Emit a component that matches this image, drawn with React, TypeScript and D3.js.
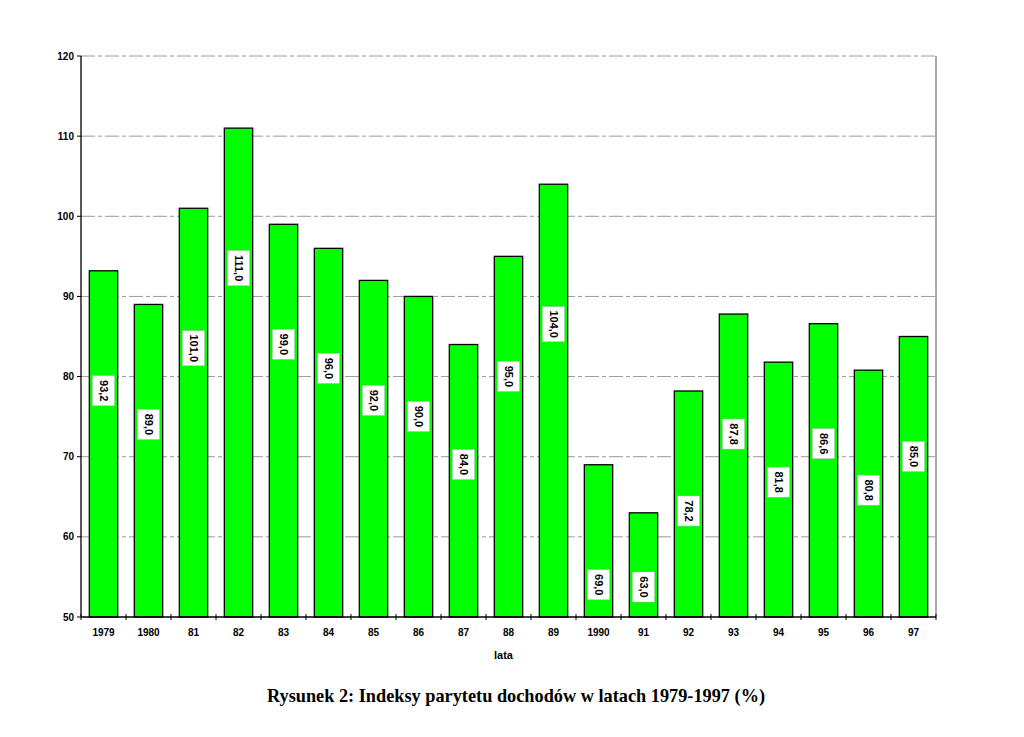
import { FC } from "react";
import * as d3 from "d3";

const WIDTH = 1024;
const HEIGHT = 737;
const MARGIN = { top: 56, right: 88, bottom: 120, left: 81 };

const years = ["1979", "1980", "81", "82", "83", "84", "85", "86", "87", "88", "89", "1990", "91", "92", "93", "94", "95", "96", "97"];
const values = [93.2, 89.0, 101.0, 111.0, 99.0, 96.0, 92.0, 90.0, 84.0, 95.0, 104.0, 69.0, 63.0, 78.2, 87.8, 81.8, 86.6, 80.8, 85.0];
const yTicks = [50, 60, 70, 80, 90, 100, 110, 120];

const fmt = (v: number) => v.toFixed(1).replace(".", ",");

const App: FC = () => {
  const innerW = WIDTH - MARGIN.left - MARGIN.right;
  const innerH = HEIGHT - MARGIN.top - MARGIN.bottom;
  const x = d3.scaleBand<string>().domain(years).range([0, innerW]).paddingInner(0.37).paddingOuter(0.185);
  const step = x.step();
  const y = d3.scaleLinear().domain([50, 120]).range([innerH, 0]);
  const font = "'Liberation Sans', Arial, sans-serif";

  return (
    <svg width={WIDTH} height={HEIGHT} style={{ position: "absolute", left: 0, top: 0, background: "#fff" }}>
      <g transform={`translate(${MARGIN.left},${MARGIN.top})`}>
        {yTicks.slice(1).map((t) => (
          <line key={t} x1={0} x2={innerW} y1={y(t)} y2={y(t)} stroke="#9a9a9a" strokeWidth={1} strokeDasharray="14,3,4,3" />
        ))}
        <line x1={innerW} x2={innerW} y1={0} y2={innerH} stroke="#555" strokeWidth={1} />
        {values.map((v, i) => (
          <rect key={years[i]} x={x(years[i])} y={y(v)} width={x.bandwidth()} height={innerH - y(v)} fill="#00ff00" stroke="#000" strokeWidth={1.3} />
        ))}
        {values.map((v, i) => {
          const label = fmt(v);
          const cx = (x(years[i]) ?? 0) + x.bandwidth() / 2;
          const cy = Math.min(y(v) + (label.length > 4 ? 140 : 120), innerH - 30);
          const h = label.length > 4 ? 35 : 30;
          return (
            <g key={"l" + i} transform={`translate(${cx},${cy})`}>
              <rect x={-11} y={-h / 2} width={22} height={h} fill="#fff" stroke="#bbb" strokeWidth={0.5} />
              <text transform="rotate(90)" textAnchor="middle" dy="0.35em" fontFamily={font} fontWeight="bold" fontSize={11}>
                {label}
              </text>
            </g>
          );
        })}
        <line x1={0} x2={0} y1={0} y2={innerH} stroke="#000" strokeWidth={1.3} />
        <line x1={0} x2={innerW} y1={innerH} y2={innerH} stroke="#000" strokeWidth={1.3} />
        {yTicks.map((t) => (
          <g key={"y" + t} transform={`translate(0,${y(t)})`}>
            <line x1={-4} x2={0} stroke="#000" />
            <text x={-7} dy="0.35em" textAnchor="end" fontFamily={font} fontWeight="bold" fontSize={10}>
              {t}
            </text>
          </g>
        ))}
        {d3.range(years.length + 1).map((i) => (
          <line key={"xt" + i} x1={i * step} x2={i * step} y1={innerH - 3} y2={innerH + 3} stroke="#000" />
        ))}
        {years.map((yr) => (
          <text key={"x" + yr} x={(x(yr) ?? 0) + x.bandwidth() / 2} y={innerH + 19} textAnchor="middle" fontFamily={font} fontWeight="bold" fontSize={10}>
            {yr}
          </text>
        ))}
        <text x={innerW / 2 - 5} y={innerH + 42} textAnchor="middle" fontFamily={font} fontWeight="bold" fontSize={11}>
          lata
        </text>
      </g>
      <text x={516} y={702} textAnchor="middle" fontFamily="'Liberation Serif', 'Times New Roman', serif" fontWeight="bold" fontSize={18.3}>
        Rysunek 2: Indeksy parytetu dochodów w latach 1979-1997 (%)
      </text>
    </svg>
  );
};

export default App;
